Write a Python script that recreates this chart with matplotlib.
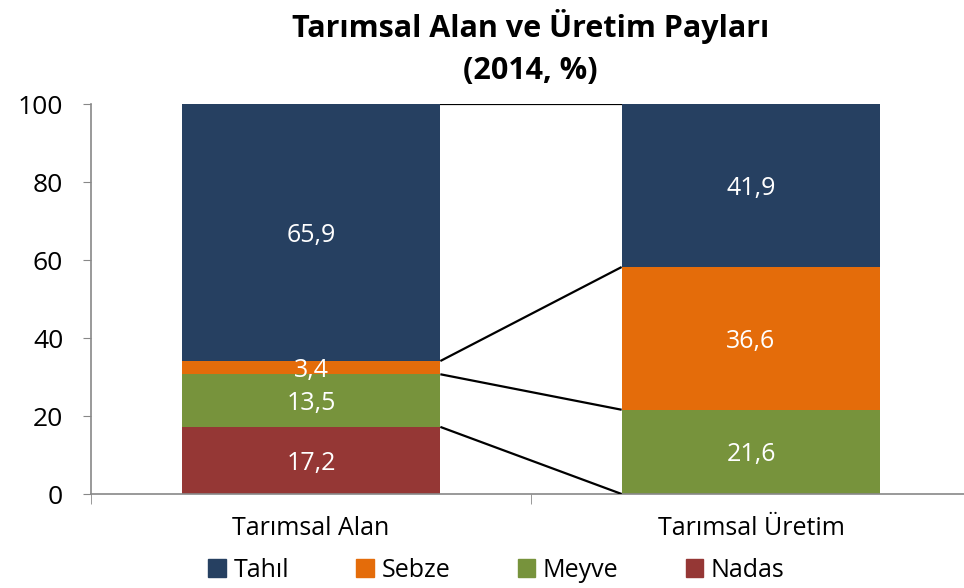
import numpy as np
import matplotlib
matplotlib.use('Agg')
import matplotlib.pyplot as plt
from matplotlib.patches import Patch

plt.rcParams['font.family'] = ['Open Sans', 'DejaVu Sans']

categories = ['Tarımsal Alan', 'Tarımsal Üretim']
series = ['Nadas', 'Meyve', 'Sebze', 'Tahıl']
nadas = [17.2, 0.0]
meyve = [13.5, 21.6]
sebze = [3.4, 36.6]
tahil = [65.9, 41.9]
colors = {'Tahıl': '#264061', 'Sebze': '#E46C0A', 'Meyve': '#77933C', 'Nadas': '#953735'}

values = {'Nadas': nadas, 'Meyve': meyve, 'Sebze': sebze, 'Tahıl': tahil}

fig = plt.figure(figsize=(9.64, 5.88), dpi=100)
ax = fig.add_axes([91 / 964, 94 / 588, 880 / 964, 390 / 588])

x = np.arange(len(categories))
w = 0.588
bottom = np.zeros(len(categories))
tops = []
for name in series:
    v = np.array(values[name])
    ax.bar(x, v, w, bottom=bottom, color=colors[name], edgecolor='none', zorder=2)
    for xi, vi, bi in zip(x, v, bottom):
        if vi > 0:
            ax.text(xi, bi + vi / 2 - 0.8, f'{vi:.1f}'.replace('.', ','), ha='center', va='center',
                    color='white', fontsize=18, zorder=4)
    bottom = bottom + v
    tops.append(bottom.copy())

# seri cizgileri
for t in tops:
    ax.plot([x[0] + w / 2, x[1] - w / 2], [min(t[0], 100), min(t[1], 100)],
            color='black', lw=1.6, zorder=3, solid_capstyle='butt')

ax.set_ylim(0, 100)
ax.set_xlim(-0.5, 1.5)
ax.set_yticks(range(0, 101, 20))
ax.set_xticks(x)
ax.set_xticklabels(categories, fontsize=18)
ax.set_xticks([-0.5, 0.5, 1.5], minor=True)
ax.tick_params(axis='x', which='major', length=0, pad=16)
ax.tick_params(axis='x', which='minor', length=7, direction='out', color='#888888')
ax.tick_params(axis='y', labelsize=19, length=6, direction='out', color='#888888', pad=14)
for s in ['top', 'right']:
    ax.spines[s].set_visible(False)
for s in ['left', 'bottom']:
    ax.spines[s].set_color('#888888')
    ax.spines[s].set_linewidth(1.2)

fig.text(0.55, 0.955, 'Tarımsal Alan ve Üretim Payları', ha='center', va='center',
         fontsize=22, fontweight='bold')
fig.text(0.55, 0.88, '(2014, %)', ha='center', va='center',
         fontsize=22, fontweight='bold')

handles = [Patch(color=colors[n]) for n in ['Tahıl', 'Sebze', 'Meyve', 'Nadas']]
fig.legend(handles, ['Tahıl', 'Sebze', 'Meyve', 'Nadas'], loc='center',
           bbox_to_anchor=(0.515, 0.03), ncol=4, frameon=False, fontsize=18,
           handlelength=0.7, handleheight=0.7, handletextpad=0.3, columnspacing=2.7)

fig.savefig('out.png', dpi=100)
